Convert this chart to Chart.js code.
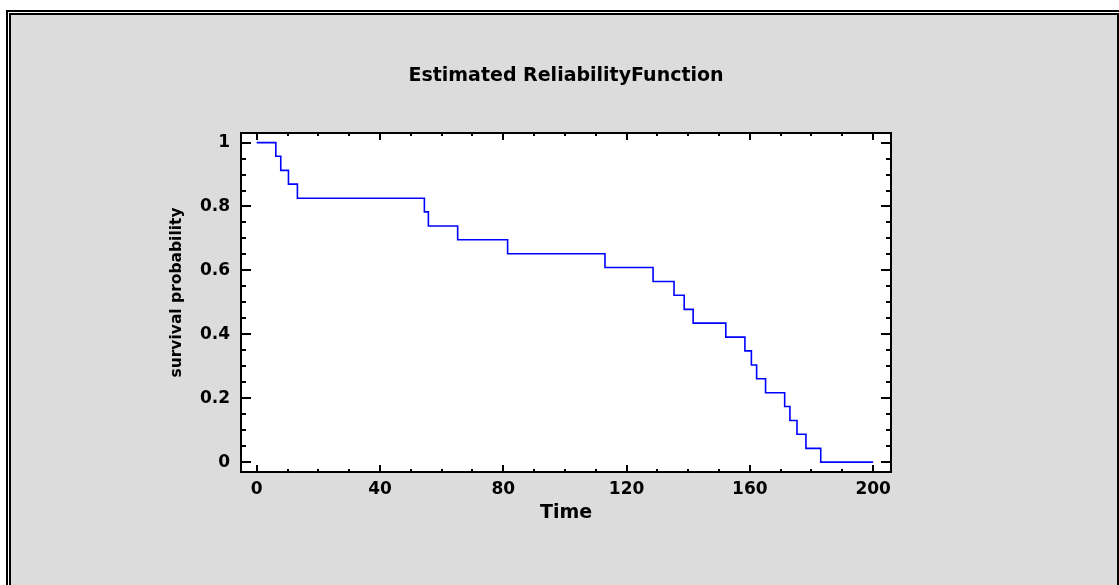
<!DOCTYPE html>
<html lang="en">
<head>
  <meta charset="UTF-8" />
  <title>Estimated Reliability Function</title>
  <script src="https://cdn.jsdelivr.net/npm/chart.js"></script>
  <style>
    html, body {
      margin: 0;
      padding: 0;
      background: #fff;
      overflow: hidden;
    }
    body {
      position: relative;
      width: 1119px;
      height: 585px;
    }
    /* double black frame round the gray panel */
    #frame {
      position: absolute;
      left: 6px;
      top: 10px;
      width: 1110px;
      height: 620px;
      border: 2px solid #000;
      padding: 1px;
      background: #fff;
    }
    #panel {
      width: 100%;
      height: 100%;
      box-sizing: border-box;
      border: 2px solid #000;
      background: #dcdcdc;
    }
    #chartBox {
      position: absolute;
      left: 0;
      top: 0;
      width: 1119px;
      height: 585px;
    }
  </style>
</head>
<body>

  <div id="frame"><div id="panel"></div></div>
  <div id="chartBox"><canvas id="reliabilityChart"></canvas></div>

  <script>
    // ==== DATA ====
    const chartTitle = 'Estimated ReliabilityFunction';
    const xTitle = 'Time';
    const yTitle = 'survival probability';

    // failure times and the survival level reached at each of them
    const times = [0, 6.2, 7.8, 10.3, 13.2, 54.4, 55.7, 65.2, 81.4, 113, 128.6, 135.4, 138.7,
                   141.6, 152.2, 158.4, 160.5, 162.2, 165.1, 171.3, 173, 175.3, 178.2, 183, 200];
    const survival = [1, 0.957, 0.913, 0.870, 0.826, 0.783, 0.739, 0.696, 0.652, 0.609, 0.565, 0.522, 0.478,
                      0.435, 0.391, 0.348, 0.304, 0.261, 0.217, 0.174, 0.130, 0.087, 0.043, 0, 0];

    const xTicks = [0, 40, 80, 120, 160, 200];
    const yTicks = [0, 0.2, 0.4, 0.6, 0.8, 1];
    const yTickLabels = ['0', '0.2', '0.4', '0.6', '0.8', '1'];

    // axis limits
    const xMin = -5.1, xMax = 205.8;
    const yMin = -0.031, yMax = 1.03;

    // minor tick spacing
    const xMinorStep = 10;
    const yMinorStep = 0.05;

    const fontFamily = '"DejaVu Sans", sans-serif';

    // ==== PLOT FRAME + INWARD TICKS ====
    const plotFrame = {
      id: 'plotFrame',
      beforeDatasetsDraw(chart) {
        const { ctx, chartArea: a } = chart;
        ctx.save();
        ctx.fillStyle = '#fff';
        ctx.fillRect(a.left, a.top, a.width, a.height);
        ctx.restore();
      },
      afterDatasetsDraw(chart) {
        const { ctx, chartArea: a, scales: { x, y } } = chart;
        ctx.save();
        ctx.strokeStyle = '#000';
        ctx.lineWidth = 2;
        ctx.beginPath();

        // ticks along top and bottom
        for (let v = 0; v <= xTicks[xTicks.length - 1] + 0.001; v += xMinorStep) {
          const major = xTicks.some(t => Math.abs(t - v) < 0.001);
          const len = major ? 7 : 3;
          const px = Math.round(x.getPixelForValue(v));
          ctx.moveTo(px, a.bottom); ctx.lineTo(px, a.bottom - len);
          ctx.moveTo(px, a.top); ctx.lineTo(px, a.top + len);
        }

        // ticks along left and right
        for (let i = 0; i <= Math.round(1 / yMinorStep); i++) {
          const v = i * yMinorStep;
          const major = yTicks.some(t => Math.abs(t - v) < 0.001);
          const len = major ? 10 : 5;
          const py = Math.round(y.getPixelForValue(v));
          ctx.moveTo(a.left, py); ctx.lineTo(a.left + len, py);
          ctx.moveTo(a.right, py); ctx.lineTo(a.right - len, py);
        }
        ctx.stroke();

        ctx.strokeRect(a.left, a.top, a.width, a.height);
        ctx.restore();
      },
      // y-axis title sits a little above the middle of the plot in the original
      afterDraw(chart) {
        const { ctx, chartArea: a } = chart;
        ctx.save();
        ctx.translate(177, (a.top + a.bottom) / 2 - 10);
        ctx.rotate(-Math.PI / 2);
        ctx.fillStyle = '#000';
        ctx.font = 'bold 15.5px ' + fontFamily;
        ctx.textAlign = 'center';
        ctx.textBaseline = 'middle';
        ctx.fillText(yTitle, 0, 0);
        ctx.restore();
      }
    };

    // ==== CHART ====
    const ctx = document.getElementById('reliabilityChart').getContext('2d');
    new Chart(ctx, {
      type: 'line',
      data: {
        datasets: [{
          data: times.map((t, i) => ({ x: t, y: survival[i] })),
          borderColor: '#0000ff',
          borderWidth: 1.6,
          stepped: 'before',
          pointRadius: 0,
          fill: false
        }]
      },
      options: {
        responsive: true,
        maintainAspectRatio: false,
        animation: false,
        layout: { padding: { left: 0, right: 228, top: 0, bottom: 0 } },
        plugins: {
          legend: { display: false },
          tooltip: { enabled: false },
          title: {
            display: true,
            text: chartTitle,
            fullSize: false,
            color: '#000',
            font: { family: fontFamily, size: 19, weight: 'bold' },
            padding: { top: 64.6, bottom: 45.6 }
          }
        },
        scales: {
          x: {
            type: 'linear',
            min: xMin,
            max: xMax,
            afterBuildTicks: (scale) => { scale.ticks = xTicks.map(v => ({ value: v })); },
            afterFit: (scale) => { scale.height = 113; },
            grid: { display: false, drawTicks: false },
            border: { display: false },
            ticks: {
              color: '#000',
              padding: 7,
              maxRotation: 0,
              autoSkip: false,
              font: { family: fontFamily, size: 17, weight: 'bold' }
            },
            title: {
              display: true,
              text: xTitle,
              color: '#000',
              padding: { top: 0, bottom: 61 },
              font: { family: fontFamily, size: 19, weight: 'bold' }
            }
          },
          y: {
            type: 'linear',
            min: yMin,
            max: yMax,
            afterBuildTicks: (scale) => { scale.ticks = yTicks.map(v => ({ value: v })); },
            afterFit: (scale) => { scale.width = 241; },
            grid: { display: false, drawTicks: false },
            border: { display: false },
            ticks: {
              color: '#000',
              padding: 11,
              autoSkip: false,
              font: { family: fontFamily, size: 17, weight: 'bold' },
              callback: (value) => {
                const i = yTicks.findIndex(t => Math.abs(t - value) < 0.001);
                return i >= 0 ? yTickLabels[i] : '';
              }
            },
            title: { display: false }
          }
        }
      },
      plugins: [plotFrame]
    });
  </script>

</body>
</html>
